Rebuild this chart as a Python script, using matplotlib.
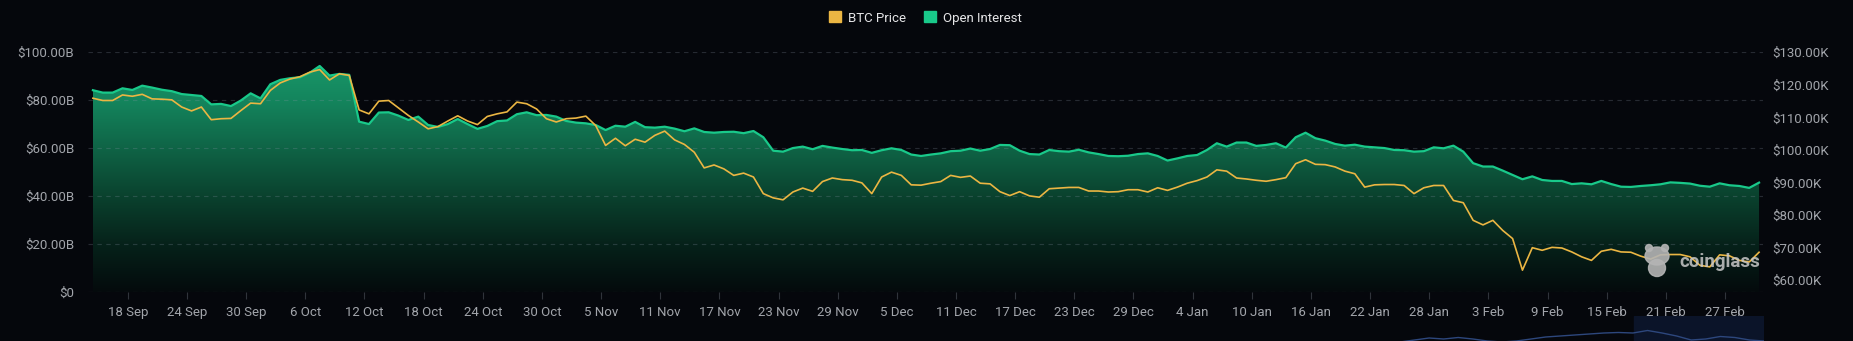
import numpy as np
import pandas as pd
import matplotlib
matplotlib.use("Agg")
import matplotlib.pyplot as plt
import matplotlib.dates as mdates
from matplotlib.colors import LinearSegmentedColormap
from matplotlib.patches import Patch, Ellipse

plt.rcParams['font.family'] = ['Roboto', 'DejaVu Sans']

# daily samples, open interest in $B and BTC price in $K
start = pd.Timestamp("2025-09-14 11:00")
open_interest = [
    84.2, 83.2, 83.2, 85.0, 84.3, 86.1, 85.3, 84.4, 83.8, 82.6,
    82.2, 81.8, 78.3, 78.5, 77.6, 79.9, 82.9, 80.8, 86.7, 88.5,
    89.2, 89.6, 91.5, 94.3, 90.3, 91.0, 90.6, 71.1, 70.1, 74.9,
    75.0, 73.6, 71.8, 73.2, 69.7, 68.9, 70.1, 72.2, 70.1, 68.1,
    69.3, 71.3, 71.6, 74.2, 75.0, 73.8, 73.9, 73.2, 71.4, 70.7,
    70.4, 69.7, 67.6, 69.4, 69.0, 71.0, 68.8, 68.6, 69.0, 68.2,
    67.1, 68.3, 66.8, 66.5, 66.8, 66.9, 66.3, 67.2, 64.6, 59.0,
    58.6, 60.1, 60.7, 59.6, 61.0, 60.3, 59.7, 59.2, 59.3, 58.1,
    59.2, 60.0, 59.3, 57.4, 56.8, 57.4, 57.9, 58.8, 59.0, 59.9,
    59.0, 59.7, 61.4, 61.3, 59.0, 57.6, 57.4, 59.3, 58.8, 58.6,
    59.4, 58.3, 57.6, 56.8, 56.7, 56.9, 57.6, 57.9, 56.8, 54.9,
    55.8, 56.8, 57.2, 59.3, 62.1, 60.7, 62.4, 62.4, 61.0, 61.4,
    62.1, 60.3, 64.6, 66.5, 64.2, 63.2, 61.8, 61.1, 61.5, 60.7,
    60.4, 60.1, 59.3, 59.2, 58.6, 58.8, 60.4, 60.0, 61.1, 58.6,
    53.8, 52.4, 52.4, 50.7, 48.9, 47.1, 48.3, 46.8, 46.4, 46.4,
    45.1, 45.4, 45.0, 46.4, 45.1, 44.0, 43.9, 44.3, 44.6, 45.0,
    45.8, 45.6, 45.3, 44.4, 44.0, 45.4, 44.6, 44.3, 43.5, 45.7,
]
btc_price = [
    115.9, 115.2, 115.2, 116.9, 116.5, 117.1, 115.7, 115.6, 115.4, 113.2,
    112.0, 113.2, 109.3, 109.6, 109.7, 112.1, 114.4, 114.2, 118.3, 120.6,
    121.8, 122.5, 123.9, 124.7, 121.5, 123.4, 122.9, 112.3, 111.1, 115.0,
    115.2, 112.9, 110.6, 108.6, 106.5, 107.2, 108.9, 110.5, 108.9, 107.8,
    110.3, 111.1, 111.7, 114.7, 114.2, 112.6, 109.6, 108.6, 109.6, 109.8,
    110.4, 107.5, 101.4, 103.6, 101.3, 103.3, 102.4, 104.5, 105.8, 103.1,
    101.7, 99.3, 94.5, 95.4, 94.2, 92.2, 92.9, 91.7, 86.6, 85.3,
    84.7, 87.1, 88.3, 87.3, 90.3, 91.4, 90.9, 90.7, 89.9, 86.6,
    91.7, 93.2, 92.2, 89.3, 89.2, 89.8, 90.3, 92.2, 91.6, 92.0,
    89.8, 89.6, 87.2, 86.0, 87.2, 85.9, 85.5, 88.1, 88.3, 88.5,
    88.5, 87.4, 87.4, 87.1, 87.2, 87.8, 87.8, 87.1, 88.4, 87.6,
    88.6, 89.8, 90.6, 91.7, 93.9, 93.5, 91.4, 91.1, 90.7, 90.4,
    90.9, 91.5, 95.8, 97.0, 95.6, 95.5, 94.8, 93.5, 92.7, 88.6,
    89.3, 89.4, 89.4, 89.1, 86.6, 88.4, 89.1, 89.1, 84.5, 83.8,
    78.4, 77.0, 78.4, 75.3, 72.8, 63.1, 70.0, 69.2, 70.1, 69.9,
    68.7, 67.2, 66.1, 68.9, 69.5, 68.7, 68.6, 67.4, 66.5, 67.8,
    67.9, 67.9, 67.2, 64.6, 64.1, 67.8, 67.5, 66.1, 65.6, 68.6,
]
tick_labels = [
    "18 Sep", "24 Sep", "30 Sep", "6 Oct", "12 Oct", "18 Oct", "24 Oct",
    "30 Oct", "5 Nov", "11 Nov", "17 Nov", "23 Nov", "29 Nov", "5 Dec",
    "11 Dec", "17 Dec", "23 Dec", "29 Dec", "4 Jan", "10 Jan", "16 Jan",
    "22 Jan", "28 Jan", "3 Feb", "9 Feb", "15 Feb", "21 Feb", "27 Feb",
]
oi_ticks = [0, 20, 40, 60, 80, 100]
oi_labels = ["$0", "$20.00B", "$40.00B", "$60.00B", "$80.00B", "$100.00B"]
price_ticks = [60, 70, 80, 90, 100, 110, 120, 130]
price_labels = [f"${p:.2f}K" for p in price_ticks]

# navigator strip under the chart (only its top edge shows)
nav_values = [24, 26, 28, 27, 28.5, 27, 25, 24, 25, 27, 29, 30, 31, 32, 33,
              33.5, 33, 35.5, 33, 30, 26, 27, 29.5, 28.5, 26, 25]
nav_window = (16.1, 25)

bg = "#05070c"
oi_color = "#19c98a"
price_color = "#ebb643"
tick_color = "#a2a5ab"

dates = start + pd.to_timedelta(np.arange(len(open_interest)), unit="D")
x = mdates.date2num(dates)
tick_dates = pd.date_range("2025-09-18", periods=len(tick_labels), freq="6D")

W, H = 1853, 341
fig = plt.figure(figsize=(W / 100, H / 100), dpi=100, facecolor=bg)
ax = fig.add_axes([88 / W, (H - 292.3) / H, (1763 - 88) / W, 240 / H])
ax.set_facecolor(bg)

# green area with a vertical gradient, clipped to the OI outline
poly = ax.fill_between(x, open_interest, 0, facecolor="none", edgecolor="none")
cmap = LinearSegmentedColormap.from_list("oi", [
    (0.0, "#040a0c"), (0.2, "#06221a"), (0.4, "#0a422e"), (0.6, "#0f6446"),
    (0.8, "#14855d"), (1.0, "#1a9c6c")])
grad = np.linspace(0, 1, 256).reshape(-1, 1)
im = ax.imshow(grad, extent=[x[0], x[-1], 0, 100], origin="lower", cmap=cmap,
               aspect="auto", zorder=1, interpolation="bilinear")
im.set_clip_path(poly.get_paths()[0], transform=ax.transData)
ax.plot(x, open_interest, color=oi_color, lw=1.6, zorder=3,
        solid_joinstyle="round")

ax.set_xlim(x[0] - 0.5, x[0] + 169.4)
ax.set_ylim(0, 100)
ax.set_yticks(oi_ticks, oi_labels)
ax.set_xticks(mdates.date2num(tick_dates), tick_labels)
ax.set_axisbelow(False)
ax.yaxis.grid(True, linestyle=(0, (4, 4)), color="#8a94a6", alpha=0.25, lw=0.8, zorder=2)
ax.tick_params(axis="y", length=0, pad=10, labelsize=9.5, labelcolor=tick_color)
ax.tick_params(axis="x", length=5, width=0.8, color="#30343b", pad=5,
               labelsize=9.5, labelcolor=tick_color)
for s in ax.spines.values():
    s.set_visible(False)

ax2 = ax.twinx()
ax2.plot(x, btc_price, color=price_color, lw=1.2, solid_joinstyle="round")
ax2.set_ylim(56.3, 130)
ax2.set_yticks(price_ticks, price_labels)
ax2.tick_params(axis="y", length=0, pad=7, labelsize=9.5, labelcolor=tick_color)
for s in ax2.spines.values():
    s.set_visible(False)

fig.legend(handles=[Patch(color=price_color, label="BTC Price"),
                    Patch(color=oi_color, label="Open Interest")],
           loc="center", bbox_to_anchor=(0.4995, 1 - 18 / H), ncol=2,
           frameon=False, handlelength=0.9, handleheight=0.9, handletextpad=0.5,
           columnspacing=1.4, fontsize=9.5, labelcolor="#e4e4e6")

# watermark
fig.text(1720 / W, 1 - 262 / H, "coinglass", ha="center", va="center",
         fontsize=13.5, weight="bold", color="#c8c8c8", alpha=0.85)
for cx, cy, w, h in [(1657, 256, 24, 18), (1657, 268, 17, 17),
                     (1649, 248, 7, 7), (1665, 248, 7, 7)]:
    fig.patches.append(Ellipse((cx / W, 1 - cy / H), w / W, h / H,
                               transform=fig.transFigure, color="#b4b4b4",
                               alpha=0.9, zorder=5))

nav = fig.add_axes([1400 / W, (H - 366) / H, 364 / W, 50 / H])
nav.axis("off")
nav.axvspan(*nav_window, color="#0b1429", zorder=0)
nav.plot(range(len(nav_values)), nav_values, color="#2d477d", lw=1)
nav.set_xlim(0, len(nav_values) - 1)
nav.set_ylim(0, 50)

fig.savefig("out.png", dpi=100, facecolor=bg)
